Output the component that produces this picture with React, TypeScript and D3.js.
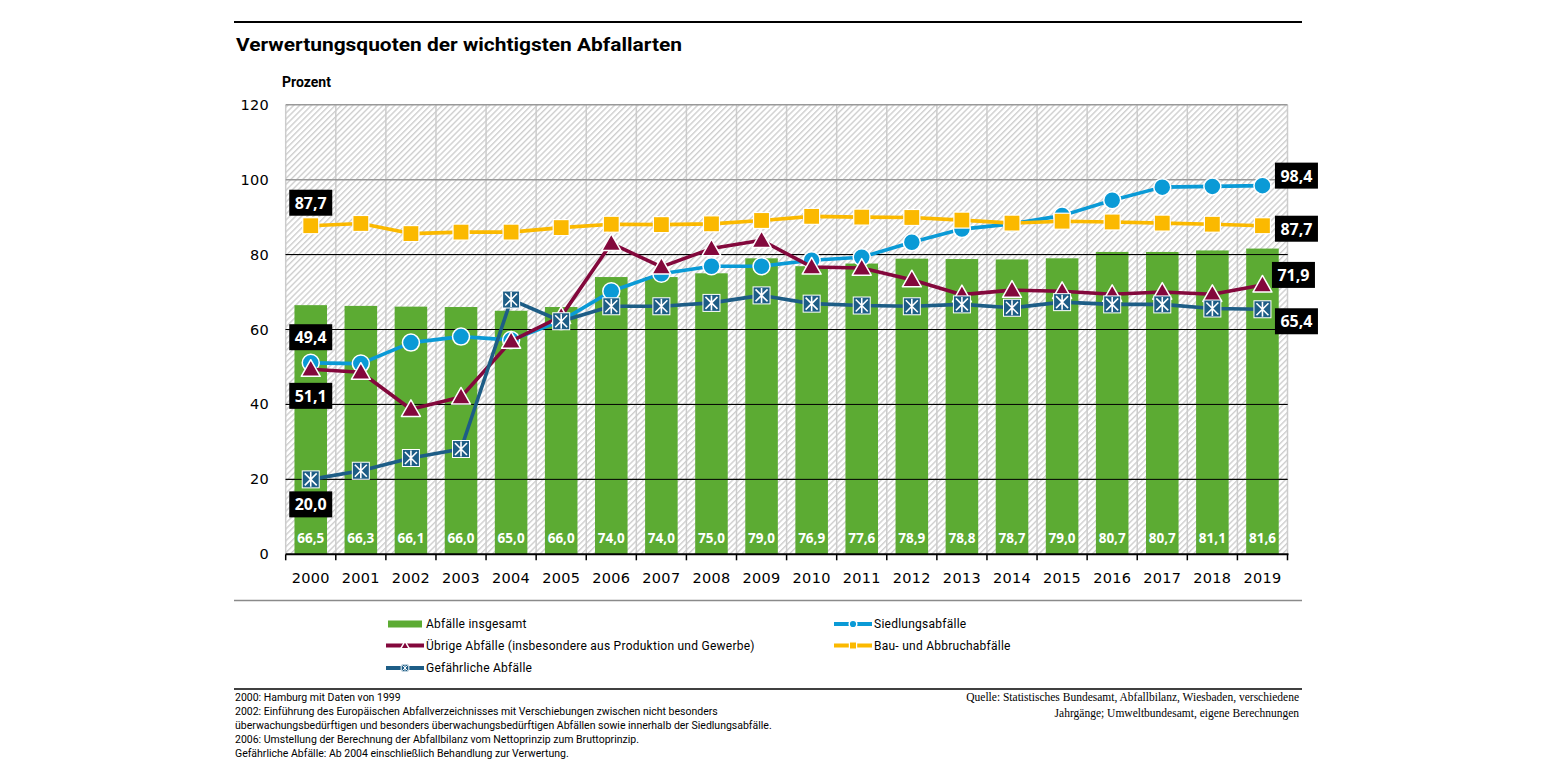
import React from "react";
import * as d3 from "d3";

const years: string[] = ["2000","2001","2002","2003","2004","2005","2006","2007","2008","2009","2010","2011","2012","2013","2014","2015","2016","2017","2018","2019"];
const totalValues: number[] = [66.5,66.3,66.1,66.0,65.0,66.0,74.0,74.0,75.0,79.0,76.9,77.6,78.9,78.8,78.7,79.0,80.7,80.7,81.1,81.6];
const siedlungValues: number[] = [51.1,50.9,56.5,58.1,57.2,62.3,70.2,74.9,76.9,76.9,78.5,79.3,83.3,86.8,88.2,90.4,94.5,98.0,98.2,98.4];
const uebrigeValues: number[] = [49.4,48.6,38.7,42.0,56.9,63.5,83.0,76.7,81.6,83.8,76.7,76.4,73.3,69.3,70.5,70.2,69.4,70.0,69.4,71.9];
const bauValues: number[] = [87.7,88.3,85.6,86.0,86.0,87.2,88.1,88.0,88.2,89.1,90.2,90.0,89.9,89.2,88.4,88.9,88.7,88.4,88.1,87.7];
const gefaehrlichValues: number[] = [20.0,22.3,25.7,28.1,68.0,62.2,66.2,66.2,67.1,69.1,66.9,66.4,66.2,66.7,65.8,67.3,66.7,66.7,65.6,65.4];
const yTicks: number[] = [0,20,40,60,80,100,120];

const footnotes: string[] = [
  "2000: Hamburg mit Daten von 1999",
  "2002: Einführung des Europäischen Abfallverzeichnisses mit Verschiebungen zwischen nicht besonders",
  "überwachungsbedürftigen und besonders überwachungsbedürftigen Abfällen sowie innerhalb der Siedlungsabfälle.",
  "2006: Umstellung der Berechnung der Abfallbilanz vom Nettoprinzip zum Bruttoprinzip.",
  "Gefährliche Abfälle: Ab 2004 einschließlich Behandlung zur Verwertung.",
];
const sourceLines: string[] = [
  "Quelle: Statistisches Bundesamt, Abfallbilanz, Wiesbaden, verschiedene",
  "Jahrgänge; Umweltbundesamt, eigene Berechnungen",
];

const C_GREEN = "#5cab33";
const C_BLUE = "#0a9ad6";
const C_RED = "#83083c";
const C_ORANGE = "#fbb900";
const C_DARK = "#1d5d86";

type Marker = "circle" | "triangle" | "square" | "x";
interface Series { name: string; values: number[]; color: string; marker: Marker; }
const lineSeries: Series[] = [
  { name: "Siedlungsabfälle", values: siedlungValues, color: C_BLUE, marker: "circle" },
  { name: "Übrige Abfälle (insbesondere aus Produktion und Gewerbe)", values: uebrigeValues, color: C_RED, marker: "triangle" },
  { name: "Bau- und Abbruchabfälle", values: bauValues, color: C_ORANGE, marker: "square" },
  { name: "Gefährliche Abfälle", values: gefaehrlichValues, color: C_DARK, marker: "x" },
];

// value annotation boxes: [seriesIndex, yearIndex, text, dx, dy]
const annotations: [number, number, string, number, number][] = [
  [2, 0, "87,7", 0, -23],
  [1, 0, "49,4", 0, -32],
  [0, 0, "51,1", 0, 33],
  [3, 0, "20,0", 0, 25],
  [0, 19, "98,4", 34, -10],
  [2, 19, "87,7", 34, 3],
  [1, 19, "71,9", 31, -10],
  [3, 19, "65,4", 34, 12],
];

const W = 1545, H = 775;
const left = 285.7, right = 1287.5, top = 104.7, bottom = 554.3;

function MarkerShape({ type, x, y, color, s = 1 }: { type: Marker; x: number; y: number; color: string; s?: number }) {
  if (type === "circle") return <circle cx={x} cy={y} r={8.5 * s} fill={color} stroke="#fff" strokeWidth={1.5} />;
  if (type === "square") return <rect x={x - 8 * s} y={y - 8 * s} width={16 * s} height={16 * s} fill={color} stroke="#fff" strokeWidth={1.2} />;
  if (type === "triangle") {
    const h = 9.5 * s;
    return <path d={`M${x},${y - h} L${x + h},${y + h * 0.75} L${x - h},${y + h * 0.75} Z`} fill={color} stroke="#fff" strokeWidth={1.5} strokeLinejoin="round" />;
  }
  const a = 8.5 * s, b = 6 * s;
  return (
    <g>
      <rect x={x - a} y={y - a} width={2 * a} height={2 * a} fill={color} stroke="#fff" strokeWidth={1} />
      <path d={`M${x - b},${y - b} L${x + b},${y + b} M${x + b},${y - b} L${x - b},${y + b} M${x},${y - a + 1} L${x},${y + a - 1}`} stroke="#fff" strokeWidth={1.6 * Math.max(s, 0.6)} />
    </g>
  );
}

export default function App() {
  const x = d3.scaleBand<string>().domain(years).range([left, right]).padding(0);
  const bw = x.bandwidth();
  const cx = (i: number) => (x(years[i]) as number) + bw / 2;
  const y = d3.scaleLinear().domain([0, 120]).range([bottom, top]);
  const line = d3.line<number>().x((_, i) => cx(i)).y((v) => y(v));
  const barW = bw * 0.65;
  const legendFont = { fontFamily: "Roboto, sans-serif", fontSize: 12, letterSpacing: 0.25 } as const;

  return (
    <svg width={W} height={H} style={{ position: "absolute", left: 0, top: 0 }} xmlns="http://www.w3.org/2000/svg">
      <defs>
        <pattern id="hatch" patternUnits="userSpaceOnUse" width={4.2} height={4.2} patternTransform="rotate(45)">
          <rect width={4.2} height={4.2} fill="#ffffff" />
          <rect x={0} y={0} width={1.4} height={4.2} fill="#cfcfcf" />
        </pattern>
      </defs>
      <rect width={W} height={H} fill="#fff" />
      {/* top rule & title */}
      <line x1={234} x2={1302} y1={22} y2={22} stroke="#000" strokeWidth={2} />
      <text x={236} y={50.5} fontFamily="Roboto, sans-serif" fontWeight={700} fontSize={19} textLength={446} lengthAdjust="spacingAndGlyphs">Verwertungsquoten der wichtigsten Abfallarten</text>
      <text x={282} y={87} fontFamily="Roboto, sans-serif" fontWeight={700} fontSize={14}>Prozent</text>

      {/* plot background */}
      <rect x={left} y={top} width={right - left} height={bottom - top} fill="url(#hatch)" />
      {/* vertical grid */}
      {years.map((yr) => (
        <line key={"v" + yr} x1={x(yr) as number} x2={x(yr) as number} y1={top} y2={bottom} stroke="#cccccc" strokeWidth={1.5} />
      ))}
      <line x1={right} x2={right} y1={top} y2={bottom} stroke="#cccccc" strokeWidth={1.5} />
      {/* horizontal grid */}
      {yTicks.filter((t) => t > 0).map((t) => (
        <line key={"h" + t} x1={left} x2={right} y1={y(t)} y2={y(t)} stroke={t >= 100 ? "#999999" : "#000"} strokeWidth={t >= 100 ? 1.5 : 1} />
      ))}

      {/* bars */}
      {totalValues.map((v, i) => (
        <rect key={"b" + i} x={cx(i) - barW / 2} y={y(v)} width={barW} height={bottom - y(v)} fill={C_GREEN} />
      ))}
      {totalValues.map((v, i) => (
        <text key={"bl" + i} x={cx(i)} y={543} textAnchor="middle" fill="#fff" fontFamily="'Noto Sans', sans-serif" fontWeight={700} fontSize={13.5}>
          {v.toFixed(1).replace(".", ",")}
        </text>
      ))}
      {/* horizontal grid over bars */}
      {yTicks.filter((t) => t > 0 && t < 100).map((t) => (
        <line key={"ho" + t} x1={left} x2={right} y1={y(t)} y2={y(t)} stroke="#000" strokeWidth={1} />
      ))}

      {/* lines */}
      {lineSeries.map((s) => (
        <g key={s.name}>
          <path d={line(s.values) as string} fill="none" stroke={s.color} strokeWidth={3.6} strokeLinejoin="round" />
          {s.values.map((v, i) => (
            <MarkerShape key={i} type={s.marker} x={cx(i)} y={y(v)} color={s.color} />
          ))}
        </g>
      ))}

      {/* axes */}
      <line x1={left} x2={right + 1} y1={bottom} y2={bottom} stroke="#000" strokeWidth={2} />
      {[...years.map((yr) => x(yr) as number), right].map((px, i) => (
        <line key={"t" + i} x1={px} x2={px} y1={bottom} y2={bottom + 6} stroke="#000" strokeWidth={1.5} />
      ))}
      {years.map((yr, i) => (
        <text key={"xl" + yr} x={cx(i)} y={583} textAnchor="middle" fontFamily="'DejaVu Sans', sans-serif" fontSize={14.5} letterSpacing={0.3}>{yr}</text>
      ))}
      {yTicks.map((t) => (
        <text key={"yl" + t} x={269} y={y(t) + 5} textAnchor="end" fontFamily="'DejaVu Sans', sans-serif" fontSize={14.5} letterSpacing={0.3}>{t}</text>
      ))}

      {/* annotations */}
      {annotations.map(([si, yi, txt, dx, dy], k) => {
        const ax = cx(yi) + dx, ay = y(lineSeries[si].values[yi]) + dy;
        return (
          <g key={"a" + k}>
            <rect x={ax - 21.5} y={ay - 13} width={43} height={26} fill="#000" />
            <text x={ax} y={ay + 6} textAnchor="middle" fill="#fff" fontFamily="'Noto Sans', sans-serif" fontWeight={700} fontSize={16}>{txt}</text>
          </g>
        );
      })}

      {/* rule under axis */}
      <line x1={234} x2={1302} y1={600.5} y2={600.5} stroke="#8a8a8a" strokeWidth={1.5} />

      {/* legend */}
      <rect x={388} y={620.5} width={34} height={7} fill={C_GREEN} />
      <text x={426} y={628} {...legendFont}>Abfälle insgesamt</text>
      {[
        { s: lineSeries[0], lx: 834, ly: 624 },
        { s: lineSeries[1], lx: 386, ly: 645.5 },
        { s: lineSeries[2], lx: 834, ly: 645.5 },
        { s: lineSeries[3], lx: 386, ly: 668 },
      ].map(({ s, lx, ly }) => (
        <g key={"lg" + s.name}>
          <line x1={lx} x2={lx + 38} y1={ly} y2={ly} stroke={s.color} strokeWidth={4} />
          <MarkerShape type={s.marker} x={lx + 19} y={ly} color={s.color} s={0.45} />
          <text x={lx + 40} y={ly + 4} {...legendFont}>{s.name}</text>
        </g>
      ))}

      {/* footnotes */}
      <line x1={234} x2={1302} y1={689} y2={689} stroke="#000" strokeWidth={1.5} />
      {footnotes.map((f, i) => (
        <text key={"fn" + i} x={235} y={701 + i * 14} fontFamily="Roboto, sans-serif" fontSize={10.5}>{f}</text>
      ))}
      {sourceLines.map((s, i) => (
        <text key={"src" + i} x={1299} y={701 + i * 15.5} textAnchor="end" fontFamily="'Liberation Serif', serif" fontSize={11.5}>{s}</text>
      ))}
    </svg>
  );
}
